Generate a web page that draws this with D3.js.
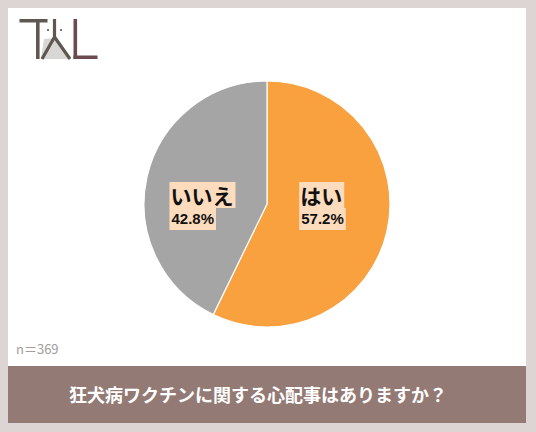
<!DOCTYPE html>
<html>
<head>
<meta charset="utf-8">
<script src="https://cdn.jsdelivr.net/npm/d3@7"></script>
<style>
  html, body { margin: 0; padding: 0; background: #ddd5d4; }
  svg { display: block; }
</style>
</head>
<body>
<script>
// Survey answers (n = 369)
const categories = ["はい", "いいえ"];
const shares = [57.2, 42.8];
const percentLabels = ["57.2%", "42.8%"];
const sliceColors = ["#f9a03f", "#a5a5a5"];
const sampleNote = "n＝369";
const question = "狂犬病ワクチンに関する心配事はありますか？";

const W = 536, H = 432;
const svg = d3.select("body").append("svg").attr("width", W).attr("height", H);

// frame
svg.append("rect").attr("width", W).attr("height", H).attr("fill", "#ddd5d4");
svg.append("rect").attr("x", 8).attr("y", 8).attr("width", 518).attr("height", 358).attr("fill", "#ffffff");

// logo
const logo = svg.append("g");
const dark = "#5f5852", wine = "#6c4b50";
logo.append("path").attr("d", "M44,39 L54.5,38 L70,59 L41,59 Z").attr("fill", "#d9d7d5");
logo.append("rect").attr("x", 19.5).attr("y", 19).attr("width", 28).attr("height", 3.5).attr("fill", dark);
logo.append("rect").attr("x", 36).attr("y", 19).attr("width", 3.6).attr("height", 40).attr("fill", dark);
logo.append("path").attr("d", "M54.5,19 L54.5,38 M54.5,37 L42,59 M54.5,37 L70,59")
  .attr("stroke", dark).attr("stroke-width", 3.2).attr("fill", "none");
logo.append("circle").attr("cx", 48).attr("cy", 30).attr("r", 1.1).attr("fill", dark);
logo.append("circle").attr("cx", 61).attr("cy", 30).attr("r", 1.1).attr("fill", dark);
logo.append("rect").attr("x", 73.5).attr("y", 19).attr("width", 3.6).attr("height", 40).attr("fill", wine);
logo.append("rect").attr("x", 73.5).attr("y", 55.5).attr("width", 24).attr("height", 3.5).attr("fill", wine);

// pie
const cx = 267, cy = 204, R = 123;
const data = categories.map((c, i) => ({ cat: c, value: shares[i], label: percentLabels[i], color: sliceColors[i] }));
const pie = d3.pie().value(d => d.value).sort(null);
const arc = d3.arc().innerRadius(0).outerRadius(R);
const labelArc = d3.arc().innerRadius(0).outerRadius(R * 0.98);
const g = svg.append("g").attr("transform", `translate(${cx},${cy})`);
const arcs = pie(data);

g.selectAll("path.slice").data(arcs).join("path")
  .attr("class", "slice")
  .attr("d", arc)
  .attr("fill", d => d.data.color)
  .attr("stroke", "#ffffff")
  .attr("stroke-width", 1.2);

// data labels: category + percentage on a peach background
const lab = g.selectAll("g.lab").data(arcs).join("g").attr("class", "lab");
lab.each(function(d) {
  const sel = d3.select(this);
  const [px] = labelArc.centroid(d);
  const t1 = sel.append("text")
    .attr("font-family", "'Noto Sans CJK JP', sans-serif")
    .attr("font-weight", 700).attr("font-size", 21).attr("fill", "#111")
    .text(d.data.cat);
  const t2 = sel.append("text")
    .attr("font-family", "'Liberation Sans', Arial, sans-serif")
    .attr("font-weight", 700).attr("font-size", 15).attr("fill", "#111")
    .text(d.data.label);
  const w1 = t1.node().getComputedTextLength();
  const w2 = t2.node().getComputedTextLength();
  const bw = Math.max(w1, w2);
  const left = px - 0.6 * bw;
  const top = -22;
  t1.attr("x", left).attr("y", top + 22);
  t2.attr("x", left + 1).attr("y", top + 42);
  sel.insert("rect", "text").attr("x", left - 1).attr("y", top).attr("width", w1 + 3).attr("height", 26).attr("fill", "#fddcbd");
  sel.insert("rect", "text").attr("x", left - 1).attr("y", top + 26).attr("width", w2 + 4).attr("height", 22).attr("fill", "#fddcbd");
});

// sample size note
svg.append("text").attr("x", 16).attr("y", 354)
  .attr("font-family", "'Noto Sans CJK JP', sans-serif").attr("font-size", 13)
  .attr("fill", "#a29c9b").text(sampleNote);

// question banner
svg.append("rect").attr("x", 8).attr("y", 366).attr("width", 518).attr("height", 57).attr("fill", "#937a75");
svg.append("text").attr("x", 258).attr("y", 402).attr("text-anchor", "middle")
  .attr("font-family", "'Noto Sans CJK JP', sans-serif").attr("font-weight", 700).attr("font-size", 18)
  .attr("fill", "#ffffff").text(question);
</script>
</body>
</html>
